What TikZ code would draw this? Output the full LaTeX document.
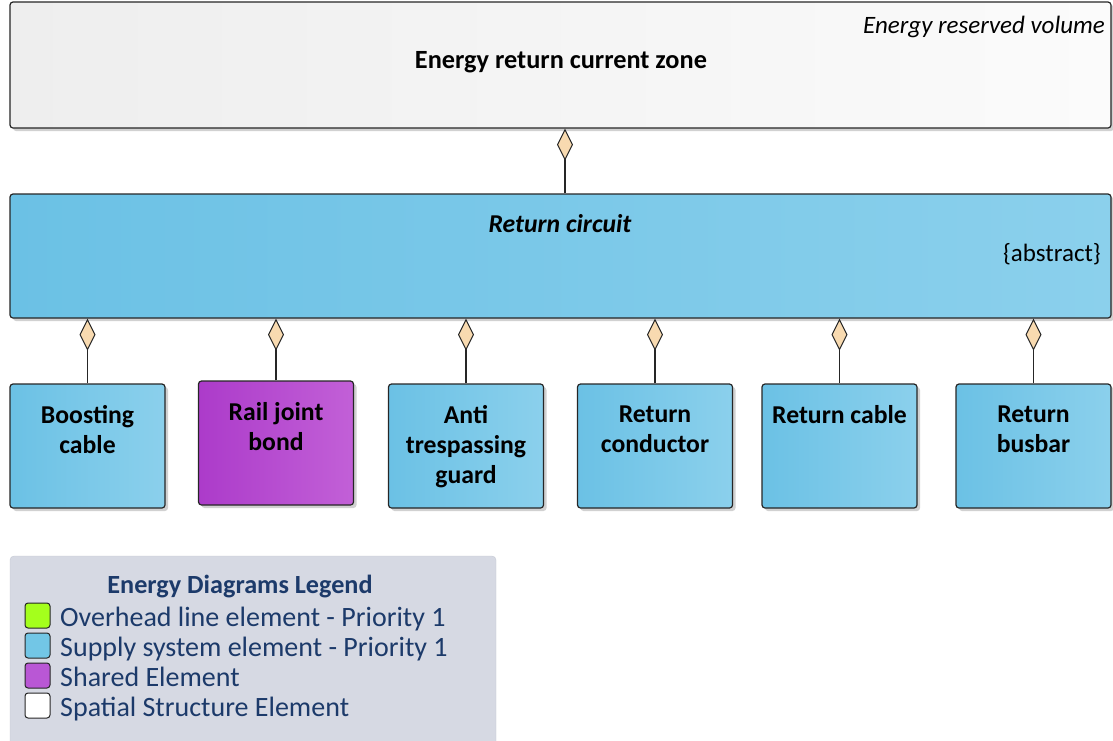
\documentclass[tikz,border=0pt]{standalone}
\usepackage{fontspec}
\setmainfont{Carlito}
\usetikzlibrary{arrows.meta,shadows}

\definecolor{supA}{HTML}{6BC1E5}
\definecolor{supB}{HTML}{8BD0EC}
\definecolor{shrA}{HTML}{AC3BCA}
\definecolor{shrB}{HTML}{C260D7}
\definecolor{spaA}{HTML}{EEEEEE}
\definecolor{spaB}{HTML}{FBFBFB}
\definecolor{legBg}{HTML}{D6D9E3}
\definecolor{legLine}{HTML}{C4C8D2}
\definecolor{legTxt}{HTML}{1C3A6A}
\definecolor{diaFill}{HTML}{F8DAB0}
\definecolor{ovhGreen}{HTML}{A4FF1C}
\definecolor{supBlue}{HTML}{72C6E6}
\definecolor{shrPurple}{HTML}{B957D5}

\newcommand{\dgf}{\fontsize{25.7}{30}\selectfont}
\newcommand{\stf}{\fontsize{25}{30}\selectfont}
\newcommand{\lgf}{\fontsize{28}{30}\selectfont}

\begin{document}
\begin{tikzpicture}[x=1pt, y=-1pt,
    elem/.style={draw=black!85, line width=1.2pt, rounded corners=3pt,
        drop shadow={shadow xshift=3pt, shadow yshift=-3pt, fill=black!18, opacity=1}},
    supply/.style={elem, left color=supA, right color=supB},
    shared/.style={elem, left color=shrA, right color=shrB},
    spatial/.style={elem, left color=spaA, right color=spaB},
    part/.style={minimum width=155pt, minimum height=124pt, inner sep=0pt},
    title/.style={font=\dgf\bfseries, align=center, inner sep=0pt},
    plain/.style={font=\stf, inner sep=0pt},
    comp/.style={line width=1.2pt, black!85,
        -{Diamond[length=32pt, width=16pt, fill=diaFill, line width=1pt]}},
    swatch/.style={draw=black!85, line width=1pt, rounded corners=3pt,
        minimum size=25pt, inner sep=0pt},
]
\useasboundingbox (0, 0) rectangle (1113, 740);

% --- Spatial structure (top) ---
\node[spatial, minimum width=1101pt, minimum height=126pt] (zone) at (560.5, 65) {};
\node[title, font=\fontsize{26.3}{30}\selectfont\bfseries, anchor=base]
    (zonelbl) at (561, 68) {Energy return current zone};
\node[plain, font=\stf\itshape, anchor=base east] (zonest) at (1105, 33)
    {Energy reserved volume};

% --- Return circuit ---
\node[supply, minimum width=1101pt, minimum height=124pt] (circuit) at (560.5, 256) {};
\node[title, font=\dgf\bfseries\itshape, anchor=base] (circuitlbl) at (560, 232)
    {Return circuit};
\node[plain, anchor=base east] (circuitst) at (1101, 261) {\{abstract\}};

\draw[comp] ([xshift=4.5pt]circuit.north) -- ([xshift=4.5pt]zone.south);

% --- Parts of the return circuit ---
\foreach \pn/\px/\py/\sty/\txt in {
    boost/87.5/446/supply/{Boosting\\cable},
    rjb/276/443/shared/{Rail joint\\bond},
    anti/466/446/supply/{Anti\\trespassing\\guard},
    rcond/655/446/supply/{Return\\conductor},
    rcable/839.5/446/supply/{Return cable},
    busbar/1033.5/446/supply/{Return\\busbar}%
} {
    \node[\sty, part] (\pn) at (\px, \py) {};
    \node[title, anchor=north] (\pn lbl) at ([yshift=-22pt]\pn.north) {\txt};
    \draw[comp] (\pn) -- (\pn |- circuit.south);
}

% --- Legend ---
\node[draw=legLine, fill=legBg, rounded corners=4pt, inner sep=0pt,
      minimum width=486pt, minimum height=190pt] (legend) at (253, 651) {};
\node[font=\fontsize{26.2}{30}\selectfont\bfseries, text=legTxt, inner sep=0pt,
      anchor=base] (legendlbl) at (240, 593) {Energy Diagrams Legend};
\foreach \i/\col/\txt in {
    0/ovhGreen/Overhead line element - Priority 1,
    1/supBlue/Supply system element - Priority 1,
    2/shrPurple/Shared Element,
    3/white/Spatial Structure Element%
} {
    \node[swatch, fill=\col] (sw\i) at (37.5, {615.5+30*\i}) {};
    \node[font=\lgf, inner sep=0pt, text=legTxt, anchor=base west] (lt\i)
        at (60, {626+30*\i}) {\txt};
}

\end{tikzpicture}
\end{document}
